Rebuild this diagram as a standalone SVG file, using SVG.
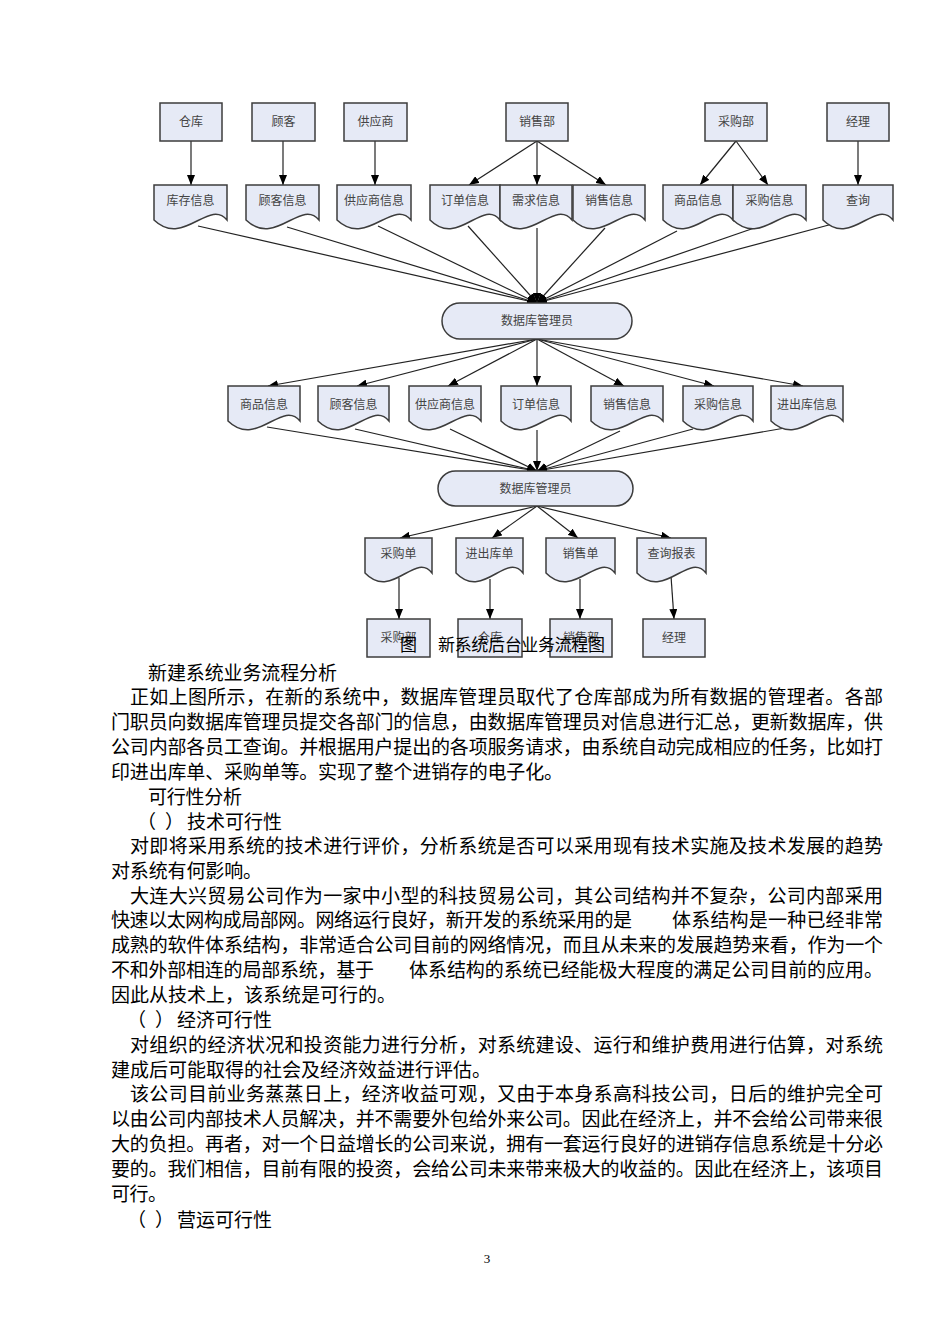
<svg xmlns="http://www.w3.org/2000/svg" width="950" height="1344" viewBox="0 0 950 1344">
<style>
.box{fill:#e6eaf6;stroke:#3c3c3c;stroke-width:1.5}
.lbl{font-family:"Noto Sans CJK SC","Noto Sans CJK TC",sans-serif;font-size:12px;fill:#444;text-anchor:middle}
.conn line{stroke:#222;stroke-width:1.2;marker-end:url(#ah)}
.body{font-family:"Noto Sans CJK SC","Noto Sans CJK TC",sans-serif;font-size:19px;fill:#000}
.cap{font-family:"Noto Sans CJK SC","Noto Sans CJK TC",sans-serif;font-size:17px;fill:#000}
</style>
<defs>
<marker id="ah" markerUnits="userSpaceOnUse" markerWidth="10" markerHeight="8" refX="10" refY="4" orient="auto">
<path d="M0,0 L10,4 L0,8 Z" fill="#000"/>
</marker>
</defs>
<rect width="950" height="1344" fill="#fff"/>

<!-- connectors -->
<g id="connectors" class="conn">
<line x1="191" y1="141" x2="191" y2="185"/>
<line x1="283" y1="141" x2="283" y2="185"/>
<line x1="375" y1="141" x2="375" y2="185"/>
<line x1="537" y1="141" x2="469" y2="185"/>
<line x1="537" y1="141" x2="537" y2="185"/>
<line x1="537" y1="141" x2="606" y2="185"/>
<line x1="736" y1="141" x2="700" y2="185"/>
<line x1="736" y1="141" x2="768" y2="185"/>
<line x1="858" y1="141" x2="858" y2="185"/>

<line x1="198" y1="226" x2="537" y2="303"/>
<line x1="287" y1="227" x2="537" y2="303"/>
<line x1="378" y1="226" x2="537" y2="303"/>
<line x1="468" y1="226" x2="537" y2="303"/>
<line x1="537" y1="228" x2="537" y2="303"/>
<line x1="605" y1="228" x2="537" y2="303"/>
<line x1="677" y1="231" x2="537" y2="303"/>
<line x1="763" y1="225" x2="537" y2="303"/>
<line x1="840" y1="222" x2="537" y2="303"/>

<line x1="537" y1="339" x2="268" y2="386"/>
<line x1="537" y1="339" x2="357" y2="386"/>
<line x1="537" y1="339" x2="448" y2="386"/>
<line x1="537" y1="339" x2="537" y2="386"/>
<line x1="537" y1="339" x2="624" y2="386"/>
<line x1="537" y1="339" x2="714" y2="386"/>
<line x1="537" y1="339" x2="803" y2="386"/>

<line x1="267" y1="427" x2="537" y2="471"/>
<line x1="355" y1="429" x2="537" y2="471"/>
<line x1="450" y1="429" x2="537" y2="471"/>
<line x1="537" y1="430" x2="537" y2="471"/>
<line x1="620" y1="431" x2="537" y2="471"/>
<line x1="693" y1="429" x2="537" y2="471"/>
<line x1="785" y1="428" x2="537" y2="471"/>

<line x1="537" y1="506" x2="400" y2="538"/>
<line x1="537" y1="506" x2="492" y2="538"/>
<line x1="537" y1="506" x2="578" y2="538"/>
<line x1="537" y1="506" x2="671" y2="538"/>

<line x1="399" y1="578" x2="399" y2="619"/>
<line x1="490" y1="579" x2="490" y2="619"/>
<line x1="580" y1="579" x2="580" y2="619"/>
<line x1="671" y1="576" x2="674" y2="619"/>
</g>

<!-- top row boxes -->
<g id="n-cangku"><rect class="box" x="160" y="103" width="62" height="38"/><text class="lbl" x="191" y="126">仓库</text></g>
<g id="n-guke"><rect class="box" x="252" y="103" width="63" height="38"/><text class="lbl" x="283.5" y="126">顾客</text></g>
<g id="n-gongyingshang"><rect class="box" x="344" y="103" width="63" height="38"/><text class="lbl" x="375.5" y="126">供应商</text></g>
<g id="n-xiaoshoubu"><rect class="box" x="506" y="103" width="62" height="38"/><text class="lbl" x="537" y="126">销售部</text></g>
<g id="n-caigoubu"><rect class="box" x="705" y="103" width="62" height="38"/><text class="lbl" x="736" y="126">采购部</text></g>
<g id="n-jingli"><rect class="box" x="827" y="103" width="62" height="38"/><text class="lbl" x="858" y="126">经理</text></g>

<!-- row 1 documents -->
<g id="d1-kucun"><path class="box" d="M154,185 H227 V220 C208.8,198 183.2,248 154,220 Z"/><text class="lbl" x="190.5" y="205">库存信息</text></g>
<g id="d1-guke"><path class="box" d="M246,185 H319 V220 C300.8,198 275.2,248 246,220 Z"/><text class="lbl" x="282.5" y="205">顾客信息</text></g>
<g id="d1-gongyingshang"><path class="box" d="M337,185 H411 V220 C392.5,198 366.6,248 337,220 Z"/><text class="lbl" x="374" y="205">供应商信息</text></g>
<g id="d1-dingdan"><path class="box" d="M430,185 H500 V220 C482.5,198 458,248 430,220 Z"/><text class="lbl" x="465" y="205">订单信息</text></g>
<g id="d1-xuqiu"><path class="box" d="M500,185 H572 V220 C554,198 528.8,248 500,220 Z"/><text class="lbl" x="536" y="205">需求信息</text></g>
<g id="d1-xiaoshou"><path class="box" d="M573,185 H645 V220 C627,198 601.8,248 573,220 Z"/><text class="lbl" x="609" y="205">销售信息</text></g>
<g id="d1-shangpin"><path class="box" d="M663,185 H733 V220 C715.5,198 691,248 663,220 Z"/><text class="lbl" x="698" y="205">商品信息</text></g>
<g id="d1-caigou"><path class="box" d="M733,185 H806 V220 C787.8,198 762.2,248 733,220 Z"/><text class="lbl" x="769.5" y="205">采购信息</text></g>
<g id="d1-chaxun"><path class="box" d="M823,185 H893 V220 C875.5,198 851,248 823,220 Z"/><text class="lbl" x="858" y="205">查询</text></g>

<!-- DB manager 1 -->
<g id="db1"><rect class="box" x="442" y="303" width="190" height="36" rx="18" ry="18"/><text class="lbl" x="537" y="325">数据库管理员</text></g>

<!-- row 2 documents -->
<g id="d2-shangpin"><path class="box" d="M228,386 H300 V421 C282,399 256.8,449 228,421 Z"/><text class="lbl" x="264" y="409">商品信息</text></g>
<g id="d2-guke"><path class="box" d="M318,386 H389 V421 C371.2,399 346.4,449 318,421 Z"/><text class="lbl" x="353.5" y="409">顾客信息</text></g>
<g id="d2-gongyingshang"><path class="box" d="M409,386 H481 V421 C463,399 437.8,449 409,421 Z"/><text class="lbl" x="445" y="409">供应商信息</text></g>
<g id="d2-dingdan"><path class="box" d="M501,386 H571 V421 C553.5,399 529,449 501,421 Z"/><text class="lbl" x="536" y="409">订单信息</text></g>
<g id="d2-xiaoshou"><path class="box" d="M591,386 H663 V421 C645,399 619.8,449 591,421 Z"/><text class="lbl" x="627" y="409">销售信息</text></g>
<g id="d2-caigou"><path class="box" d="M683,386 H753 V421 C735.5,399 711,449 683,421 Z"/><text class="lbl" x="718" y="409">采购信息</text></g>
<g id="d2-jinchuku"><path class="box" d="M771,386 H843 V421 C825,399 799.8,449 771,421 Z"/><text class="lbl" x="807" y="409">进出库信息</text></g>

<!-- DB manager 2 -->
<g id="db2"><rect class="box" x="438" y="471" width="195" height="35" rx="17.5" ry="17.5"/><text class="lbl" x="535.5" y="493">数据库管理员</text></g>

<!-- row 3 documents -->
<g id="d3-caigoudan"><path class="box" d="M365,538 H432 V573 C415.2,551 391.8,601 365,573 Z"/><text class="lbl" x="398.5" y="558">采购单</text></g>
<g id="d3-jinchukudan"><path class="box" d="M456,538 H523 V573 C506.2,551 482.8,601 456,573 Z"/><text class="lbl" x="489.5" y="558">进出库单</text></g>
<g id="d3-xiaoshoudan"><path class="box" d="M546,538 H615 V573 C597.8,551 573.6,601 546,573 Z"/><text class="lbl" x="580.5" y="558">销售单</text></g>
<g id="d3-chaxunbaobiao"><path class="box" d="M637,538 H706 V573 C688.8,551 664.6,601 637,573 Z"/><text class="lbl" x="671.5" y="558">查询报表</text></g>

<!-- bottom boxes -->
<g id="b-caigoubu"><rect class="box" x="367" y="619" width="63" height="38"/><text class="lbl" x="398.5" y="642">采购部</text></g>
<g id="b-cangku"><rect class="box" x="458" y="619" width="64" height="38"/><text class="lbl" x="490" y="642">仓库</text></g>
<g id="b-xiaoshoubu"><rect class="box" x="550" y="619" width="62" height="38"/><text class="lbl" x="581" y="642">销售部</text></g>
<g id="b-jingli"><rect class="box" x="643" y="619" width="62" height="38"/><text class="lbl" x="674" y="642">经理</text></g>

<!-- caption -->
<text class="cap" y="651"><tspan x="400">图</tspan><tspan x="438" textLength="167" lengthAdjust="spacing">新系统后台业务流程图</tspan></text>

<!-- body text -->
<g id="body">
<text class="body" x="148" y="680" textLength="189" lengthAdjust="spacing">新建系统业务流程分析</text>
<text class="body" x="130" y="704" textLength="753" lengthAdjust="spacing">正如上图所示，在新的系统中，数据库管理员取代了仓库部成为所有数据的管理者。各部</text>
<text class="body" x="111" y="729" textLength="772" lengthAdjust="spacing">门职员向数据库管理员提交各部门的信息，由数据库管理员对信息进行汇总，更新数据库，供</text>
<text class="body" x="111" y="754" textLength="772" lengthAdjust="spacing">公司内部各员工查询。并根据用户提出的各项服务请求，由系统自动完成相应的任务，比如打</text>
<text class="body" x="111" y="779" textLength="452" lengthAdjust="spacing">印进出库单、采购单等。实现了整个进销存的电子化。</text>
<text class="body" x="148" y="804" textLength="94" lengthAdjust="spacing">可行性分析</text>
<text class="body" y="829"><tspan x="137">（</tspan><tspan x="165">）</tspan><tspan x="187" textLength="95" lengthAdjust="spacing">技术可行性</tspan></text>
<text class="body" x="130" y="853" textLength="753" lengthAdjust="spacing">对即将采用系统的技术进行评价，分析系统是否可以采用现有技术实施及技术发展的趋势</text>
<text class="body" x="111" y="878" textLength="151" lengthAdjust="spacing">对系统有何影响。</text>
<text class="body" x="130" y="903" textLength="753" lengthAdjust="spacing">大连大兴贸易公司作为一家中小型的科技贸易公司，其公司结构并不复杂，公司内部采用</text>
<text class="body" y="927"><tspan x="111" textLength="521" lengthAdjust="spacing">快速以太网构成局部网。网络运行良好，新开发的系统采用的是</tspan><tspan x="672" textLength="211" lengthAdjust="spacing">体系结构是一种已经非常</tspan></text>
<text class="body" x="111" y="952" textLength="772" lengthAdjust="spacing">成熟的软件体系结构，非常适合公司目前的网络情况，而且从未来的发展趋势来看，作为一个</text>
<text class="body" y="977"><tspan x="111" textLength="263" lengthAdjust="spacing">不和外部相连的局部系统，基于</tspan><tspan x="409" textLength="474" lengthAdjust="spacing">体系结构的系统已经能极大程度的满足公司目前的应用。</tspan></text>
<text class="body" x="111" y="1002" textLength="285" lengthAdjust="spacing">因此从技术上，该系统是可行的。</text>
<text class="body" y="1027"><tspan x="127">（</tspan><tspan x="155">）</tspan><tspan x="177" textLength="95" lengthAdjust="spacing">经济可行性</tspan></text>
<text class="body" x="130" y="1052" textLength="753" lengthAdjust="spacing">对组织的经济状况和投资能力进行分析，对系统建设、运行和维护费用进行估算，对系统</text>
<text class="body" x="111" y="1077" textLength="380" lengthAdjust="spacing">建成后可能取得的社会及经济效益进行评估。</text>
<text class="body" x="130" y="1101" textLength="753" lengthAdjust="spacing">该公司目前业务蒸蒸日上，经济收益可观，又由于本身系高科技公司，日后的维护完全可</text>
<text class="body" x="111" y="1126" textLength="772" lengthAdjust="spacing">以由公司内部技术人员解决，并不需要外包给外来公司。因此在经济上，并不会给公司带来很</text>
<text class="body" x="111" y="1151" textLength="772" lengthAdjust="spacing">大的负担。再者，对一个日益增长的公司来说，拥有一套运行良好的进销存信息系统是十分必</text>
<text class="body" x="111" y="1176" textLength="772" lengthAdjust="spacing">要的。我们相信，目前有限的投资，会给公司未来带来极大的收益的。因此在经济上，该项目</text>
<text class="body" x="111" y="1201" textLength="56" lengthAdjust="spacing">可行。</text>
<text class="body" y="1227"><tspan x="127">（</tspan><tspan x="155">）</tspan><tspan x="177" textLength="95" lengthAdjust="spacing">营运可行性</tspan></text>
</g>
<text x="487" y="1263" font-family="'Liberation Serif',serif" font-size="13" fill="#000" text-anchor="middle">3</text>
</svg>
